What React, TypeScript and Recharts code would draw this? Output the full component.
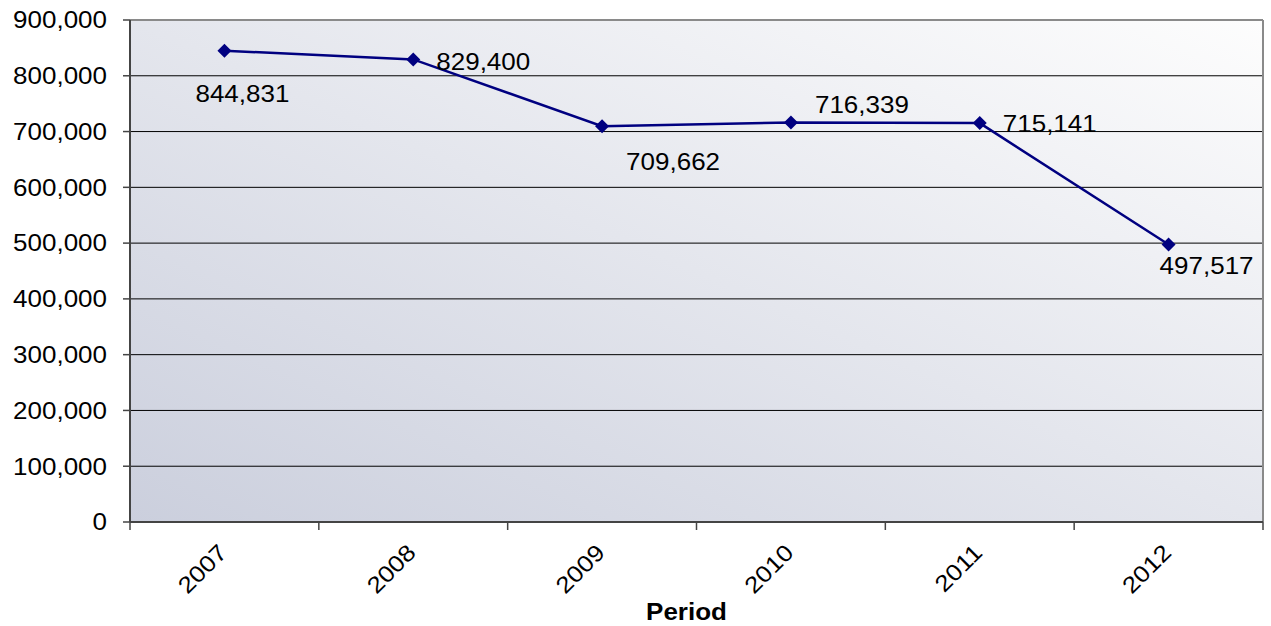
import {
  LineChart,
  Line,
  XAxis,
  YAxis,
  CartesianGrid,
  LabelList,
  ReferenceLine,
} from "recharts";

// Yearly totals
const years = ["2007", "2008", "2009", "2010", "2011", "2012"];
const totals = [844831, 829400, 709662, 716339, 715141, 497517];
const yTicks = [0, 100000, 200000, 300000, 400000, 500000, 600000, 700000, 800000, 900000];

// where each value label sits relative to its point (dx, dy)
const labelOffsets: [number, number][] = [
  [18, 43],
  [70, 2],
  [71, 36],
  [71, -18],
  [70, 1],
  [38, 21],
];

const FONT = "'Liberation Sans', Arial, sans-serif";
const STRETCH = 1.13;
const TICK_GAP = 21;

// each year sits in the middle of its band on a 0..6 numeric axis
const data = years.map((year, i) => ({ slot: i + 0.5, year, total: totals[i] }));
// half steps: whole numbers are band edges (tick marks), halves are the year labels
const xTicks = Array.from({ length: years.length * 2 + 1 }, (_, i) => i / 2);

const fmt = (v: number) => v.toLocaleString("en-US");

function YTick({ x, y, payload }: any) {
  return (
    <g transform={`translate(${x},${y}) scale(${STRETCH},1)`}>
      <text textAnchor="end" dy="0.36em" fontSize={23} fontFamily={FONT} fill="#000">
        {fmt(payload.value)}
      </text>
    </g>
  );
}

function XTick({ x, y, payload }: any) {
  const v = payload.value as number;
  if (Number.isInteger(v)) {
    const top = y - TICK_GAP;
    return <line x1={x} x2={x} y1={top} y2={top + 8} stroke="#444" strokeWidth={1.5} />;
  }
  return (
    <g transform={`translate(${x - 8},${y - 1}) rotate(-45) scale(${STRETCH},1)`}>
      <text textAnchor="end" dy="0.74em" fontSize={23} fontFamily={FONT} fill="#000">
        {years[Math.floor(v)]}
      </text>
    </g>
  );
}

function ValueLabel({ x, y, value, index }: any) {
  const [dx, dy] = labelOffsets[index] ?? [0, 0];
  return (
    <g transform={`translate(${x + dx},${y + dy}) scale(${STRETCH},1)`}>
      <text textAnchor="middle" dy="0.36em" fontSize={23} fontFamily={FONT} fill="#000">
        {fmt(value)}
      </text>
    </g>
  );
}

function Diamond({ cx, cy, index }: any) {
  const r = 7;
  return (
    <polygon
      key={`d-${index}`}
      points={`${cx},${cy - r} ${cx + r},${cy} ${cx},${cy + r} ${cx - r},${cy}`}
      fill="#000080"
    />
  );
}

function PeriodLabel({ viewBox }: any) {
  const vb = viewBox ?? {};
  const cx = (vb.x ?? 0) + (vb.width ?? 0) / 2 - 10;
  const cy = (vb.y ?? 0) + (vb.height ?? 0);
  return (
    <g transform={`translate(${cx},${cy}) scale(${STRETCH},1)`}>
      <text textAnchor="middle" dy="0.36em" fontSize={23} fontWeight="bold" fontFamily={FONT} fill="#000">
        Period
      </text>
    </g>
  );
}

export default function App() {
  return (
    <div style={{ position: "absolute", left: 0, top: 0, width: 1271, height: 626, background: "#fff" }}>
      <LineChart
        width={1271}
        height={626}
        data={data}
        margin={{ top: 20, right: 8, bottom: 14, left: 10 }}
      >
        <defs>
          <linearGradient id="plotBg" x1="0" y1="1" x2="1" y2="0">
            <stop offset="0%" stopColor="#cbcfdd" />
            <stop offset="100%" stopColor="#fdfdfd" />
          </linearGradient>
        </defs>
        <CartesianGrid vertical={false} stroke="#000" fill="url(#plotBg)" fillOpacity={1} />
        <XAxis
          type="number"
          dataKey="slot"
          domain={[0, years.length]}
          ticks={xTicks}
          interval={0}
          tickLine={false}
          tickSize={0}
          tickMargin={TICK_GAP}
          height={90}
          stroke="#444"
          strokeWidth={2}
          tick={<XTick />}
          label={<PeriodLabel />}
        />
        <YAxis
          domain={[0, 900000]}
          ticks={yTicks}
          interval={0}
          width={120}
          tickSize={7}
          tickMargin={16}
          stroke="#444"
          strokeWidth={2}
          tickLine={{ stroke: "#444", strokeWidth: 1.5 }}
          tick={<YTick />}
        />
        <ReferenceLine y={900000} stroke="#8a8a8a" strokeWidth={2} />
        <ReferenceLine x={years.length} stroke="#8a8a8a" strokeWidth={2} />
        <Line
          dataKey="total"
          stroke="#000080"
          strokeWidth={2.5}
          dot={<Diamond />}
          activeDot={false}
          isAnimationActive={false}
        >
          <LabelList dataKey="total" content={<ValueLabel />} />
        </Line>
      </LineChart>
    </div>
  );
}
